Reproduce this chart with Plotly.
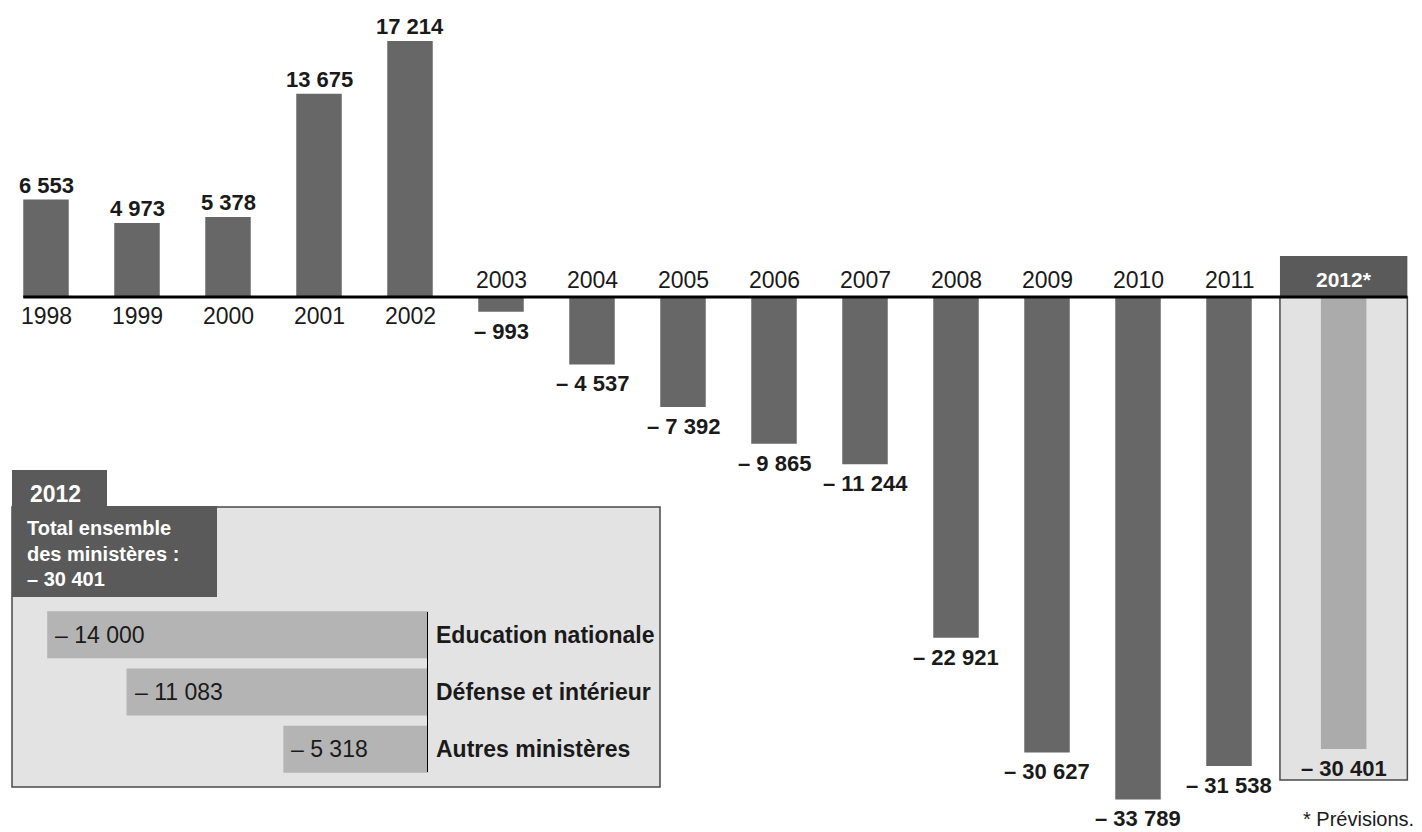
import plotly.graph_objects as go

# Net job creations / cuts in the civil service, by year (2012 = forecast)
years = [1998, 1999, 2000, 2001, 2002, 2003, 2004, 2005, 2006, 2007,
         2008, 2009, 2010, 2011, 2012]
net_change = [6553, 4973, 5378, 13675, 17214, -993, -4537, -7392, -9865,
              -11244, -22921, -30627, -33789, -31538, -30401]
forecast_year = 2012

# 2012 breakdown by ministry
ministries = ["Education nationale", "Défense et intérieur", "Autres ministères"]
ministry_change = [-14000, -11083, -5318]

# ---- styling ----
W, H = 1422, 832
MAIN_BAR = "#676767"
FORECAST_BAR = "#ababab"
PANEL_FILL = "#e3e3e3"
HEADER_FILL = "#5a5a5a"
BORDER = "#4a4a4a"
INK = "#1a1a1a"
FONT = "Liberation Sans, Arial, Helvetica, sans-serif"

PX_PER_YEAR = 91.0          # horizontal pitch between years
FIRST_CENTER_PX = 46        # centre of the first bar
BASELINE_PX = 297           # vertical position of the zero line
PX_PER_JOB = 14.87 / 1000   # vertical scale
FORECAST_SHIFT = 0.26       # extra gap before the forecast column
BAR_W = 0.5
BOX_HALF = 0.7              # half width of the forecast panel (years)

INSET_PX_PER_JOB = 27.2 / 1000
INSET_ZERO_PX = 428


def fmt(v):
    s = f"{abs(v):,}".replace(",", "\u00a0")
    return ("\u2013\u00a0" + s) if v < 0 else s


def py(px):
    """pixel row -> paper y"""
    return 1 - px / H


def pxx(px):
    """pixel column -> paper x"""
    return px / W


xpos = [y + (FORECAST_SHIFT if y == forecast_year else 0) for y in years]
colors = [FORECAST_BAR if y == forecast_year else MAIN_BAR for y in years]
fc_pos = xpos[years.index(forecast_year)]

x0 = years[0] - FIRST_CENTER_PX / PX_PER_YEAR
x1 = x0 + W / PX_PER_YEAR
y_top = BASELINE_PX / PX_PER_JOB
y_bot = -(H - BASELINE_PX) / PX_PER_JOB

fig = go.Figure()

fig.add_trace(go.Bar(
    x=xpos, y=net_change, width=BAR_W,
    marker=dict(color=colors, line=dict(width=0)),
    hoverinfo="skip", showlegend=False,
))

# inset: 2012 by ministry
fig.add_trace(go.Bar(
    x=ministry_change, y=ministries, orientation="h", width=0.82,
    marker=dict(color="#b4b4b4", line=dict(width=0)),
    xaxis="x2", yaxis="y2", hoverinfo="skip", showlegend=False,
))

shapes = []
annotations = []

# forecast panel with dark header
shapes.append(dict(type="rect", xref="x", yref="paper",
                   x0=fc_pos - BOX_HALF, x1=fc_pos + BOX_HALF,
                   y0=py(780), y1=py(BASELINE_PX),
                   fillcolor="#e2e2e2", line=dict(color=BORDER, width=1.5),
                   layer="below"))
shapes.append(dict(type="rect", xref="x", yref="paper",
                   x0=fc_pos - BOX_HALF, x1=fc_pos + BOX_HALF,
                   y0=py(BASELINE_PX), y1=py(256),
                   fillcolor=HEADER_FILL, line=dict(width=0), layer="below"))
# zero line
shapes.append(dict(type="line", xref="x", yref="y",
                   x0=years[0] - BAR_W / 2, x1=fc_pos + BOX_HALF, y0=0, y1=0,
                   line=dict(color="black", width=3), layer="above"))

# value and year labels
for y, xp, v in zip(years, xpos, net_change):
    annotations.append(dict(
        x=xp, y=v, xref="x", yref="y", text=fmt(v), showarrow=False,
        yanchor="bottom" if v > 0 else "top", yshift=0 if v > 0 else -5,
        font=dict(family=FONT, size=22, color=INK, weight="bold"),
    ))
    if y == forecast_year:
        annotations.append(dict(
            x=xp, y=0, xref="x", yref="y", text=f"{y}*", showarrow=False,
            yanchor="middle", yshift=18,
            font=dict(family=FONT, size=21, color="white", weight="bold"),
        ))
    else:
        annotations.append(dict(
            x=xp, y=0, xref="x", yref="y", text=str(y), showarrow=False,
            yanchor="middle", yshift=-19 if v > 0 else 17,
            font=dict(family=FONT, size=23, color=INK),
        ))

# inset panel
shapes.append(dict(type="rect", xref="paper", yref="paper",
                   x0=pxx(12), x1=pxx(660), y0=py(787), y1=py(507),
                   fillcolor=PANEL_FILL, line=dict(color=BORDER, width=1.5),
                   layer="below"))
shapes.append(dict(type="rect", xref="paper", yref="paper",
                   x0=pxx(12), x1=pxx(107), y0=py(507), y1=py(470),
                   fillcolor=HEADER_FILL, line=dict(width=0), layer="below"))
shapes.append(dict(type="rect", xref="paper", yref="paper",
                   x0=pxx(12), x1=pxx(217), y0=py(597), y1=py(506),
                   fillcolor=HEADER_FILL, line=dict(width=0), layer="below"))
shapes.append(dict(type="line", xref="x2", yref="y2 domain",
                   x0=0, x1=0, y0=0.035, y1=0.965,
                   line=dict(color="black", width=2)))

total = sum(ministry_change)
annotations.append(dict(
    x=pxx(28), y=py(494), xref="paper", yref="paper", text=str(forecast_year),
    xanchor="left", yanchor="middle", showarrow=False,
    font=dict(family=FONT, size=23, color="white", weight="bold")))
for txt, row in [("Total ensemble", 528), ("des ministères :", 554),
                 (fmt(total), 579)]:
    annotations.append(dict(
        x=pxx(25), y=py(row), xref="paper", yref="paper", text=txt,
        xanchor="left", yanchor="middle", showarrow=False,
        font=dict(family=FONT, size=20, color="white", weight="bold")))

for m, v in zip(ministries, ministry_change):
    annotations.append(dict(
        x=v, y=m, xref="x2", yref="y2", text=fmt(v), showarrow=False,
        xanchor="left", xshift=6,
        font=dict(family=FONT, size=23, color=INK)))
    annotations.append(dict(
        x=0, y=m, xref="x2", yref="y2", text=m, showarrow=False,
        xanchor="left", xshift=6,
        font=dict(family=FONT, size=23, color=INK, weight="bold")))

annotations.append(dict(
    x=pxx(1416), y=py(819), xref="paper", yref="paper", text="* Prévisions.",
    xanchor="right", yanchor="middle", showarrow=False,
    font=dict(family=FONT, size=20, color=INK)))

fig.update_layout(
    width=W, height=H, autosize=False,
    margin=dict(l=0, r=0, t=0, b=0, pad=0),
    paper_bgcolor="white", plot_bgcolor="rgba(0,0,0,0)",
    showlegend=False,
    xaxis=dict(range=[x0, x1], domain=[0, 1], visible=False, fixedrange=True),
    yaxis=dict(range=[y_bot, y_top], domain=[0, 1], visible=False,
               fixedrange=True),
    xaxis2=dict(domain=[0, pxx(INSET_ZERO_PX)],
                range=[-INSET_ZERO_PX / INSET_PX_PER_JOB, 0],
                anchor="y2", visible=False, fixedrange=True),
    yaxis2=dict(domain=[py(778), py(606)], anchor="x2", type="category",
                autorange="reversed", visible=False, fixedrange=True),
    shapes=shapes,
    annotations=annotations,
)

fig.write_html("out.html", config={"displayModeBar": False})
